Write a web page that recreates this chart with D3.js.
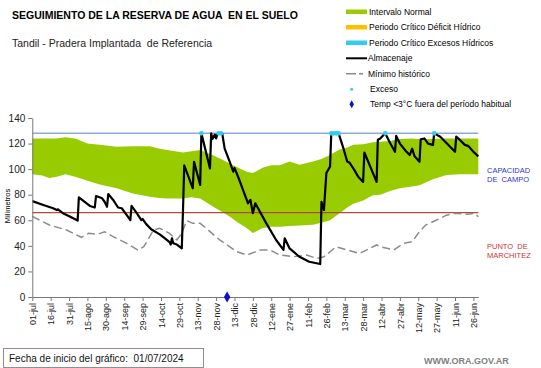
<!DOCTYPE html>
<html>
<head>
  <title>Reserva de agua</title>
  <meta http-equiv="content-type" content="text/html; charset=UTF-8">
  <script type="text/javascript" src="https://cdn.jsdelivr.net/npm/d3@7"></script>
</head>
<body style="margin:0;background:#fff">

<style>
  text {
    font-family: "Liberation Sans", Arial, sans-serif;
  }
</style>

<script type="text/javascript">
  // dias contados desde la fecha de inicio 01/07/2024
  var tickDias = [0, 15, 30, 45, 60, 75, 90, 105, 120, 135, 150, 165, 180, 195, 210, 225, 240, 255, 270, 285, 300, 315, 330, 345, 360];
  var tickLabels = ["01-jul", "16-jul", "31-jul", "15-ago", "30-ago", "14-sep", "29-sep", "14-oct", "29-oct", "13-nov", "28-nov", "13-dic", "28-dic",
    "12-ene", "27-ene", "11-feb", "26-feb", "13-mar", "28-mar", "12-abr", "27-abr", "12-may", "27-may", "11-jun", "26-jun"];
  var yTicks = [0, 20, 40, 60, 80, 100, 120, 140];

  // intervalo normal
  var bandaDias = [0, 8, 14, 20, 27, 35, 45, 55, 69, 82, 96, 104, 110, 123, 130, 137, 147, 154, 161, 168, 175, 180, 188, 195, 202, 210, 218, 229, 236, 243, 250, 257, 262, 270, 278, 284, 292, 300, 310, 316, 327, 338, 349, 364];
  var bandaMax = [124, 124, 124, 124, 125, 124, 120, 119, 117.5, 118, 118, 116, 115, 113, 114, 115, 111, 108, 104.5, 101, 98, 97, 101, 103, 103, 106, 103.5, 106, 108, 111, 115, 117, 119, 119.5, 121, 121.5, 122, 123.5, 124, 123.3, 123.5, 124, 124, 124];
  var bandaMin = [96, 95, 93, 94, 96, 94, 91, 88, 85, 81, 78.5, 77.5, 77, 77, 78, 77, 71, 67, 63, 58, 54, 50, 54, 55, 55, 55.5, 56, 56.5, 58, 60, 65, 70, 73, 75.5, 79.5, 80, 83, 85, 86.5, 87.5, 92, 95.5, 96, 96];

  // almacenaje
  var almDias = [0, 9, 17, 20, 21, 25, 31, 35, 37, 38, 47, 51, 52, 57, 59, 61, 62, 66, 70, 73, 78, 80, 81, 85, 89, 90, 93, 97, 104, 108, 112, 113, 114, 115, 118, 122, 123, 124,
    131, 132, 137, 138, 145, 146, 147, 149, 150, 151, 152, 155, 157, 161, 164, 165, 169, 175, 176, 178, 180, 182, 191, 199, 205, 206, 210, 218, 226, 235, 236, 238, 240, 243, 244, 250,
    254, 257, 259, 263, 266, 270, 271, 281, 282, 284, 288, 292, 296, 297, 300, 305, 308, 310, 312, 316, 317, 320, 323, 327, 328, 333, 337, 341, 345, 346, 349, 353, 356, 360, 364];
  var almVals = [75, 72, 69.4, 68, 68.6, 65.5, 62.8, 60.8, 59.7, 78, 71.2, 70, 79, 77.2, 74.5, 70.6, 80.5, 75.9, 70, 69.4, 62.8, 60.2, 71.2, 66, 60.2, 61, 57, 53, 49, 46, 43, 41, 45.9, 42, 41, 38, 68, 103,
    85, 105.8, 87.6, 128, 100.6, 128, 123.5, 127, 124, 127.5, 128, 128, 116, 106, 98, 101, 91.5, 75.9, 73.3, 76, 65.5, 73.3, 57.6, 44.6, 36.8, 45.9, 38, 31.5, 27.6, 25.8, 74.5, 68, 97, 102, 128, 128,
    116, 106, 105, 99, 94, 90, 113, 90, 123, 124, 128, 120.5, 113.6, 126, 120, 114, 111, 116, 110, 105.8, 123.3, 124, 120, 119, 128, 125.4, 121.5, 117.5, 113.6, 125.4, 122.8, 119, 118, 113.6, 110];

  // minimo historico
  var minDias = [0, 14, 28, 40, 46, 53, 59, 66, 77, 86, 91, 99, 104, 112, 118, 122, 126, 131, 137, 142, 153, 167, 175, 186, 194, 202, 213, 224, 232, 238, 248, 257, 267, 273, 281, 284, 295, 303, 310, 315, 321, 330, 338, 345, 355, 361, 364];
  var minVals = [63, 56.3, 52.4, 46.7, 49.8, 49, 51, 47.2, 42, 36.8, 39.3, 52.4, 53.7, 49.8, 44.6, 49.8, 59.7, 57.6, 57.6, 53.7, 44.6, 35.4, 32.8, 36.8, 36.8, 32.8, 31.5, 32.8, 30.2, 31.5, 39.3, 36.8, 34, 36.8, 40.7, 39.3, 36.8, 42, 43.3, 49.8, 56.3, 60.2, 64, 65.5, 64.7, 65.5, 62.8];

  var excesoDias = [138, 152, 154, 244, 246, 248, 250, 288, 328];
  var excesoVals = [128, 128, 128, 128, 128, 128, 128, 128, 128];
  var tempDias = [159];
  var tempVals = [0];

  var capacidadCampo = 128;
  var puntoMarchitez = 66;

  var width = 541,
    height = 368;

  var svg = d3.select("body").append("svg")
    .attr("width", width)
    .attr("height", height);

  var x = d3.scaleLinear().domain([0, 364]).range([32.3, 478.3]);
  var y = d3.scaleLinear().domain([0, 140]).range([297, 118]);

  // banda intervalo normal
  var area = d3.area()
    .x(function (d, i) { return x(bandaDias[i]); })
    .y0(function (d, i) { return y(bandaMin[i]); })
    .y1(function (d, i) { return y(bandaMax[i]); });

  svg.append("path")
    .attr("d", area(bandaDias))
    .style("fill", "#99cc00");

  // lineas de referencia
  svg.append("line")
    .attr("x1", x(0)).attr("x2", x(364))
    .attr("y1", y(capacidadCampo)).attr("y2", y(capacidadCampo))
    .style("stroke", "#8eaadb").style("stroke-width", 1.5);

  svg.append("line")
    .attr("x1", x(0)).attr("x2", x(364))
    .attr("y1", y(puntoMarchitez)).attr("y2", y(puntoMarchitez))
    .style("stroke", "#b5473f").style("stroke-width", 1.2);

  // minimo historico
  var lineMin = d3.line()
    .x(function (d, i) { return x(minDias[i]); })
    .y(function (d, i) { return y(minVals[i]); });

  svg.append("path")
    .attr("d", lineMin(minDias))
    .style("fill", "none")
    .style("stroke", "#8c8c8c")
    .style("stroke-width", 1.5)
    .style("stroke-dasharray", "8,4");

  // almacenaje
  var lineAlm = d3.line()
    .x(function (d, i) { return x(almDias[i]); })
    .y(function (d, i) { return y(almVals[i]); });

  svg.append("path")
    .attr("d", lineAlm(almDias))
    .style("fill", "none")
    .style("stroke", "#000")
    .style("stroke-width", 2.2)
    .style("stroke-linejoin", "round");

  // exceso
  svg.selectAll(".exceso")
    .data(excesoDias)
    .enter().append("circle")
    .attr("class", "exceso")
    .attr("cx", function (d) { return x(d); })
    .attr("cy", function (d, i) { return y(excesoVals[i]); })
    .attr("r", 2.3)
    .style("fill", "#33ccee");

  // ejes
  var yAxis = svg.append("g")
    .attr("transform", "translate(" + x(0) + ",0)")
    .call(d3.axisLeft(y).tickValues(yTicks).tickSize(4).tickSizeOuter(0));

  yAxis.selectAll("text").style("font-size", "10px").style("fill", "#222");

  var xAxis = svg.append("g")
    .attr("transform", "translate(0," + y(0) + ")")
    .call(d3.axisBottom(x).tickValues(tickDias).tickSize(4).tickSizeOuter(0)
      .tickFormat(function (d, i) { return tickLabels[i]; }));

  xAxis.selectAll("text")
    .attr("transform", "rotate(-90)")
    .attr("x", -6)
    .attr("y", 0)
    .attr("dy", "0.35em")
    .style("text-anchor", "end")
    .style("font-size", "9px")
    .style("fill", "#222");

  svg.selectAll(".domain, .tick line").style("stroke", "#777");

  // temperatura
  svg.selectAll(".temp")
    .data(tempDias)
    .enter().append("path")
    .attr("class", "temp")
    .attr("d", d3.symbol(d3.symbolDiamond).size(36))
    .attr("transform", function (d, i) { return "translate(" + x(d) + "," + y(tempVals[i]) + ")"; })
    .style("fill", "#0a14c8");

  svg.append("text")
    .attr("transform", "translate(10,206) rotate(-90)")
    .style("text-anchor", "middle")
    .style("font-size", "7.5px")
    .text("Milímetros");

  // titulos
  svg.append("text")
    .attr("x", 12).attr("y", 19)
    .style("font-size", "10.5px").style("font-weight", "bold")
    .text("SEGUIMIENTO DE LA RESERVA DE AGUA  EN EL SUELO")
    .attr("xml:space", "preserve");

  svg.append("text")
    .attr("x", 12).attr("y", 47)
    .style("font-size", "10.5px").style("fill", "#222")
    .style("white-space", "pre")
    .text("Tandil - Pradera Implantada  de Referencia");

  // leyenda
  var leg = svg.append("g").style("font-size", "8.5px");

  leg.append("rect").attr("x", 346).attr("y", 9.5).attr("width", 21).attr("height", 4.5).style("fill", "#99cc00");
  leg.append("text").attr("x", 369).attr("y", 14.5).text("Intervalo Normal");
  leg.append("rect").attr("x", 346).attr("y", 25).attr("width", 21).attr("height", 4.5).style("fill", "#ffc000");
  leg.append("text").attr("x", 369).attr("y", 30).text("Periodo Crítico Déficit Hídrico");
  leg.append("rect").attr("x", 346).attr("y", 40.5).attr("width", 21).attr("height", 4.5).style("fill", "#33ccee");
  leg.append("text").attr("x", 369).attr("y", 45.5).text("Periodo Crítico Excesos Hídricos");
  leg.append("line").attr("x1", 346).attr("x2", 367).attr("y1", 58.3).attr("y2", 58.3)
    .style("stroke", "#000").style("stroke-width", 2);
  leg.append("text").attr("x", 368).attr("y", 61.3).text("Almacenaje");
  leg.append("line").attr("x1", 346).attr("x2", 367).attr("y1", 73.7).attr("y2", 73.7)
    .style("stroke", "#8c8c8c").style("stroke-width", 1.5).style("stroke-dasharray", "10,3,4,20");
  leg.append("text").attr("x", 368).attr("y", 76.7).text("Mínimo histórico");
  leg.append("circle").attr("cx", 351.7).attr("cy", 89.3).attr("r", 1.5).style("fill", "#33ccee");
  leg.append("text").attr("x", 370).attr("y", 92.3).text("Exceso");
  leg.append("path").attr("d", d3.symbol(d3.symbolDiamond).size(18))
    .attr("transform", "translate(351.7,104.3)").style("fill", "#0a14c8");
  leg.append("text").attr("x", 370).attr("y", 107.3).text("Temp <3°C fuera del período habitual");

  // etiquetas derecha
  svg.append("text").attr("x", 487).attr("y", 172.5)
    .style("font-size", "7.5px").style("fill", "#3333cc").text("CAPACIDAD");
  svg.append("text").attr("x", 487).attr("y", 181.7)
    .style("font-size", "7.5px").style("fill", "#3333cc").style("white-space", "pre").text("DE  CAMPO");
  svg.append("text").attr("x", 487).attr("y", 249)
    .style("font-size", "7.5px").style("fill", "#cc3333").style("white-space", "pre").text("PUNTO  DE");
  svg.append("text").attr("x", 487).attr("y", 257.7)
    .style("font-size", "7.5px").style("fill", "#cc3333").text("MARCHITEZ");

  // pie
  svg.append("rect")
    .attr("x", 3.5).attr("y", 348.5).attr("width", 200).attr("height", 19)
    .style("fill", "#fff").style("stroke", "#9c8a8a");
  svg.append("text").attr("x", 9).attr("y", 362)
    .style("font-size", "10px").style("fill", "#111").style("white-space", "pre")
    .text("Fecha de inicio del gráfico:  01/07/2024");
  svg.append("text").attr("x", 424).attr("y", 364)
    .style("font-size", "9px").style("font-weight", "bold").style("fill", "#808080")
    .text("WWW.ORA.GOV.AR");
</script>
</body>
</html>
